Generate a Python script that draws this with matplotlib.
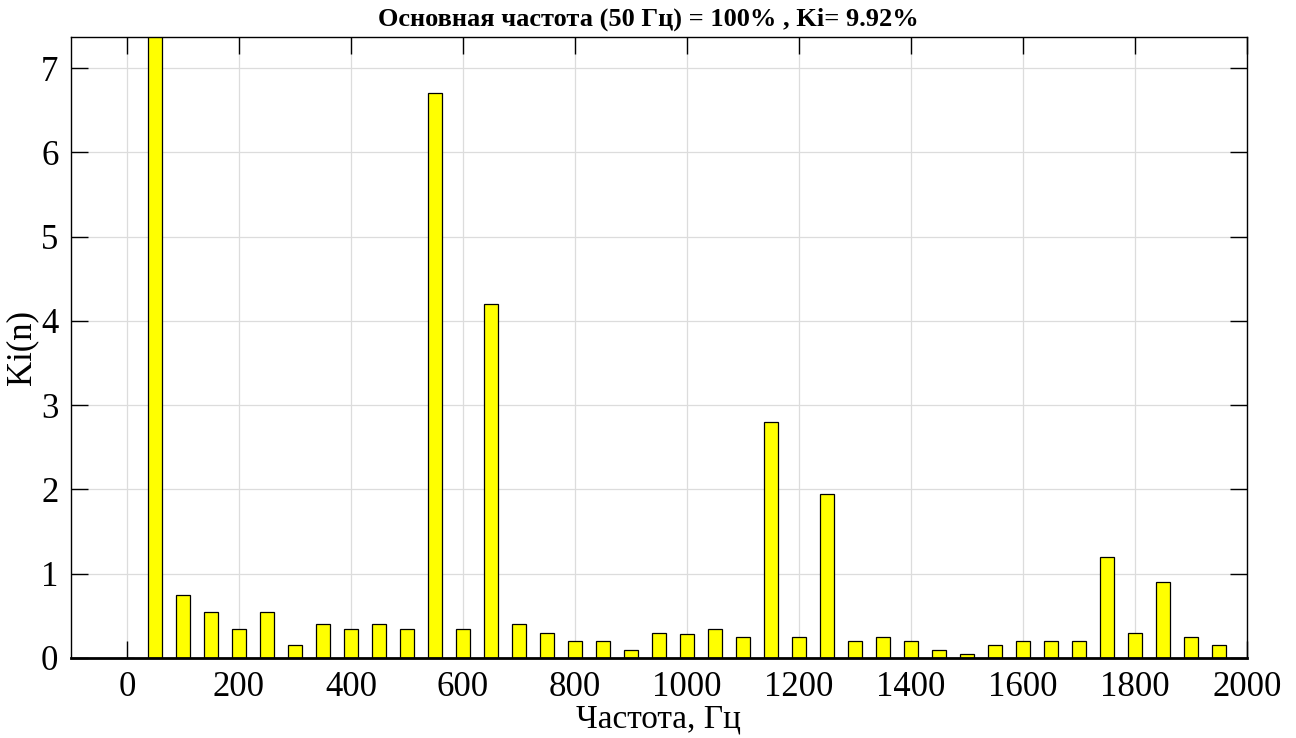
import numpy as np
import matplotlib
matplotlib.use("Agg")
import matplotlib.pyplot as plt

# harmonic frequencies, Hz
freq = np.arange(0, 2000, 50)
# harmonic content Ki(n), % of fundamental
ki = [0.0, 100.0, 0.75, 0.55, 0.35, 0.55, 0.15, 0.40, 0.35, 0.40,
      0.35, 6.70, 0.35, 4.20, 0.40, 0.30, 0.20, 0.20, 0.10, 0.30,
      0.28, 0.35, 0.25, 2.80, 0.25, 1.95, 0.20, 0.25, 0.20, 0.10,
      0.05, 0.15, 0.20, 0.20, 0.20, 1.20, 0.30, 0.90, 0.25, 0.15]
x_ticks = np.arange(0, 2001, 200)
y_ticks = np.arange(0, 8, 1)
title = "Основная частота (50 Гц) = 100% , Ki= 9.92%"

plt.rcParams["font.family"] = ["Liberation Serif", "DejaVu Serif"]

fig = plt.figure(figsize=(12.96, 7.38), dpi=100)
ax = fig.add_axes([71 / 1296, 1 - 658 / 738, (1247 - 71) / 1296, (658 - 37) / 738])

ax.bar(freq, ki, width=25, color="#ffff00", edgecolor="black", linewidth=0.9, zorder=3)

ax.set_xlim(-100, 2000)
ax.set_ylim(0, 7.37)
ax.set_xticks(x_ticks)
ax.set_yticks(y_ticks)
ax.grid(True, color="#dcdcdc", linewidth=0.9, zorder=0)
ax.set_axisbelow(True)

ax.tick_params(direction="in", length=12, width=1, top=True, right=True,
               labelsize=25, pad=9)
for s in ax.spines.values():
    s.set_linewidth(1.0)
    s.set_zorder(4)
ax.spines["bottom"].set_linewidth(2.0)

ax.set_xlabel("Частота, Гц", fontsize=24, labelpad=0)
ax.set_ylabel("Ki(n)", fontsize=25, labelpad=2)
fig.text(0.5, 1 - 19 / 738, title, ha="center", va="center",
         fontsize=19, fontweight="bold")

fig.savefig("out.png", dpi=100)
